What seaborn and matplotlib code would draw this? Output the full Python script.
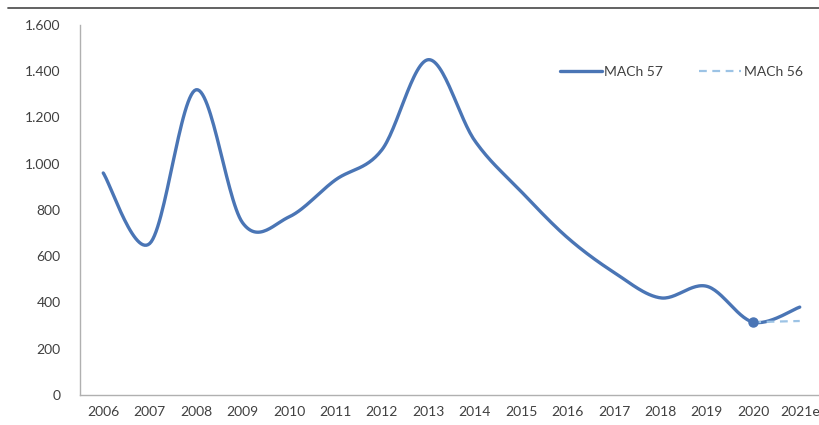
import numpy as np
import pandas as pd
import matplotlib
matplotlib.use("Agg")
import matplotlib.pyplot as plt
import seaborn as sns
from matplotlib.lines import Line2D
from matplotlib.ticker import FuncFormatter

years = ["2006", "2007", "2008", "2009", "2010", "2011", "2012", "2013",
         "2014", "2015", "2016", "2017", "2018", "2019", "2020", "2021e"]
mach57 = [960, 655, 1320, 745, 770, 930, 1060, 1450,
          1100, 880, 680, 530, 420, 470, 315, 380]
mach56_years = ["2020", "2021e"]
mach56 = [315, 320]

C57 = "#4a75b5"
C56 = "#9cc3e5"


def smooth(xs, ys, n=30):
    """Excel-style smoothed line: cubic Bezier segments with Catmull-Rom tangents."""
    xs = np.asarray(xs, float)
    ys = np.asarray(ys, float)
    px = np.concatenate([[xs[0]], xs, [xs[-1]]])
    py = np.concatenate([[ys[0]], ys, [ys[-1]]])
    outx, outy = [], []
    t = np.linspace(0, 1, n)
    for i in range(1, len(px) - 2):
        p0 = np.array([px[i], py[i]])
        p3 = np.array([px[i + 1], py[i + 1]])
        p1 = p0 + (np.array([px[i + 1], py[i + 1]]) - np.array([px[i - 1], py[i - 1]])) / 6
        p2 = p3 - (np.array([px[i + 2], py[i + 2]]) - np.array([px[i], py[i]])) / 6
        b = ((1 - t) ** 3)[:, None] * p0 + (3 * (1 - t) ** 2 * t)[:, None] * p1 \
            + (3 * (1 - t) * t ** 2)[:, None] * p2 + (t ** 3)[:, None] * p3
        outx.extend(b[:, 0])
        outy.extend(b[:, 1])
    return np.array(outx), np.array(outy)


sns.set_theme(style="white")
plt.rcParams["font.family"] = ["Lato", "DejaVu Sans"]

fig = plt.figure(figsize=(8.2, 4.25), dpi=100)
ax = fig.add_axes([0.0976, 0.0706, 0.906, 0.8706])

x57 = np.arange(len(years))
sx, sy = smooth(x57, mach57)
sns.lineplot(x=sx, y=sy, ax=ax, color=C57, linewidth=2.4, sort=False,
             estimator=None)

x56 = np.array([years.index(y) for y in mach56_years])
sns.lineplot(x=x56, y=mach56, ax=ax, color=C56, linewidth=1.6,
             linestyle=(0, (3.5, 2.5)), estimator=None)
ax.plot(x56[0], mach56[0], "o", color=C57, markersize=6.5, zorder=5)

ax.set_xlim(-0.5, len(years) - 0.5)
ax.set_ylim(0, 1600)
ax.set_xticks(x57)
ax.set_xticklabels(years)
ax.set_yticks(np.arange(0, 1601, 200))
ax.yaxis.set_major_formatter(FuncFormatter(lambda v, p: f"{int(v):,}".replace(",", ".")))
ax.tick_params(axis="both", length=0, labelsize=10, colors="#404040")
ax.tick_params(axis="x", pad=8)
ax.tick_params(axis="y", pad=14)
for side in ["top", "right"]:
    ax.spines[side].set_visible(False)
for side in ["left", "bottom"]:
    ax.spines[side].set_color("#b0b0b0")
    ax.spines[side].set_linewidth(1.0)
ax.set_xlabel("")
ax.set_ylabel("")

handles = [Line2D([], [], color=C57, linewidth=2.4),
           Line2D([], [], color=C56, linewidth=1.6, linestyle=(0, (3.5, 2.5)))]
ax.legend(handles, ["MACh 57", "MACh 56"], ncol=2, frameon=False,
          loc="center left", bbox_to_anchor=(0.646, 0.873), fontsize=10,
          borderpad=0, borderaxespad=0,
          handlelength=3.0, handletextpad=0.2, columnspacing=2.6,
          labelcolor="#404040")

fig.add_artist(Line2D([0.01, 1.0], [0.981, 0.981], color="#555555",
                      linewidth=1.3, transform=fig.transFigure))

fig.savefig("out.png", dpi=100, facecolor="white")
